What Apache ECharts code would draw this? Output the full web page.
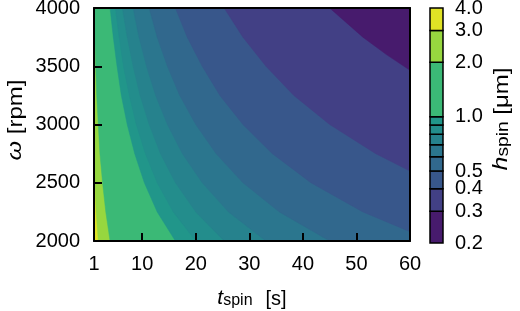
<!DOCTYPE html>
<html>
<head>
<meta charset="utf-8">
<script src="https://cdn.jsdelivr.net/npm/echarts@6/dist/echarts.min.js"></script>
<style>
  html, body { margin: 0; padding: 0; background: #fff; }
  #container { width: 520px; height: 311px; }
</style>
</head>
<body>
<div id="container"></div>
<script>
// contour levels of h_spin [um] and the fill colour of each band between them
var levels = [0.2, 0.3, 0.4, 0.5, 0.6, 0.7, 0.8, 0.9, 1.0, 2.0, 3.0, 4.0];
var bandColors = ['#471b6d', '#424085', '#38578b', '#31688d', '#2b768e', '#26828d',
                  '#238d8c', '#21968a', '#3bb976', '#97d73f', '#e0e325'];
var xTicks = [1, 10, 20, 30, 40, 50, 60];
var cbarTicks = [0.2, 0.3, 0.4, 0.5, 1.0, 2.0, 3.0, 4.0];

// contour lines, points are [t_spin (s), omega (rpm)]
var contour30 = [[1, 2680], [1.15, 2500], [1.4, 2250], [1.8, 2000]];
var contour20 = [[1.0, 4000], [1.15, 3750], [1.3, 3500], [1.5, 3250], [1.8, 3000], [2.1, 2750], [2.6, 2500], [3.2, 2250], [4.0, 2000]];
var contour10 = [[4.0, 4000], [4.6, 3750], [5.3, 3500], [6.1, 3250], [7.2, 3000], [8.6, 2750], [10.4, 2500], [12.8, 2250], [16.2, 2000]];
var contour09 = [[5.0, 4000], [5.7, 3750], [6.5, 3500], [7.6, 3250], [8.9, 3000], [10.6, 2750], [12.8, 2500], [15.8, 2250], [20.0, 2000]];
var contour08 = [[6.3, 4000], [7.2, 3750], [8.3, 3500], [9.6, 3250], [11.3, 3000], [13.4, 2750], [16.2, 2500], [20.0, 2250], [25.3, 2000]];
var contour07 = [[8.3, 4000], [9.4, 3750], [10.8, 3500], [12.5, 3250], [14.7, 3000], [17.5, 2750], [21.2, 2500], [26.1, 2250], [33.1, 2000]];
var contour06 = [[11.3, 4000], [12.8, 3750], [14.7, 3500], [17.0, 3250], [20.0, 3000], [23.8, 2750], [28.8, 2500], [35.6, 2250], [45.0, 2000]];
var contour05 = [[16.2, 4000], [18.4, 3750], [21.2, 3500], [24.5, 3250], [28.8, 3000], [34.3, 2750], [41.5, 2500], [51.2, 2250], [60, 2080]];
var contour04 = [[25.3, 4000], [28.8, 3750], [33.1, 3500], [38.3, 3250], [45.0, 3000], [53.6, 2750], [60, 2600]];
var contour03 = [[45.0, 4000], [51.2, 3750], [55.6, 3600], [60, 3465]];

var contourLevels = [4.0, 3.0, 2.0, 1.0, 0.9, 0.8, 0.7, 0.6, 0.5, 0.4, 0.3];
var contourLines = [null, contour30, contour20, contour10, contour09, contour08,
                    contour07, contour06, contour05, contour04, contour03];

var xMin = 1, xMax = 60, yMin = 2000, yMax = 4000;
var font = '"Liberation Sans", Arial, sans-serif';

var dom = document.getElementById('container');
var myChart = echarts.init(dom, null, { renderer: 'canvas' });

// region where h < level, i.e. right of / above the contour line
function regionItem(params, api) {
  var i = params.dataIndex;
  var line = contourLines[i];
  var pts = [];
  if (!line) {
    pts = [[xMin, yMax], [xMin, yMin], [xMax, yMin], [xMax, yMax]];
  } else {
    pts = line.slice();
    if (line[0][0] === xMin) pts.unshift([xMin, yMax]);
    pts.push([xMax, line[line.length - 1][1]]);
    pts.push([xMax, yMax]);
  }
  var band = levels.indexOf(contourLevels[i]) - 1;
  return {
    type: 'polygon',
    shape: { points: pts.map(function (p) { return api.coord(p); }) },
    style: { fill: bandColors[band], stroke: bandColors[band], lineWidth: 0.5 }
  };
}

function cbarItem(params, api) {
  var i = params.dataIndex;
  var p0 = api.coord([0, Math.log10(levels[i])]);
  var p1 = api.coord([1, Math.log10(levels[i + 1])]);
  return {
    type: 'rect',
    shape: { x: p0[0], y: p1[1], width: p1[0] - p0[0], height: p0[1] - p1[1] },
    style: { fill: bandColors[i], stroke: '#000', lineWidth: 1.5 }
  };
}

var frameLine = { show: true, onZero: false, lineStyle: { color: '#000', width: 2 } };
var titleRich = {
  i: { fontFamily: font, fontSize: 21, fontStyle: 'italic', fill: '#000', lineHeight: 24, verticalAlign: 'bottom' },
  s: { fontFamily: font, fontSize: 16, fill: '#000', lineHeight: 17, verticalAlign: 'bottom' },
  n: { fontFamily: font, fontSize: 20, fill: '#000', lineHeight: 24, verticalAlign: 'bottom' },
  w: { fontFamily: font, fontSize: 20, fill: '#000', lineHeight: 24, verticalAlign: 'bottom', padding: [0, 0, 0, 13] }
};

var option = {
  animation: false,
  textStyle: { fontFamily: font },
  grid: [
    { left: 94, right: 110, top: 8, bottom: 70, outerBoundsMode: 'none' },
    { left: 430, width: 13, top: 8, bottom: 68, outerBoundsMode: 'none' }
  ],
  xAxis: [
    {
      type: 'value', gridIndex: 0, min: xMin, max: xMax, z: 10,
      axisLine: frameLine,
      axisTick: { inside: true, length: 8, customValues: xTicks, lineStyle: { color: '#000', width: 2 } },
      axisLabel: { customValues: xTicks, margin: 13, color: '#000', fontSize: 20, fontFamily: font },
      splitLine: { show: false }
    },
    {
      type: 'value', gridIndex: 0, position: 'top', min: xMin, max: xMax, z: 10,
      axisLine: frameLine, axisTick: { show: false }, axisLabel: { show: false }, splitLine: { show: false }
    },
    {
      type: 'value', gridIndex: 1, min: 0, max: 1, show: false
    }
  ],
  yAxis: [
    {
      type: 'value', gridIndex: 0, min: yMin, max: yMax, interval: 500, z: 10,
      axisLine: frameLine,
      axisTick: { inside: true, length: 8, lineStyle: { color: '#000', width: 2 } },
      axisLabel: {
        margin: 14, color: '#000', fontSize: 20, fontFamily: font,
        formatter: function (v) { return String(v); }
      },
      splitLine: { show: false }
    },
    {
      type: 'value', gridIndex: 0, position: 'right', min: yMin, max: yMax, z: 10,
      axisLine: frameLine, axisTick: { show: false }, axisLabel: { show: false }, splitLine: { show: false }
    },
    {
      type: 'value', gridIndex: 1, position: 'right',
      min: Math.log10(levels[0]), max: Math.log10(levels[levels.length - 1]),
      axisLine: { show: false }, axisTick: { show: false }, splitLine: { show: false },
      axisLabel: {
        customValues: cbarTicks.map(function (v) { return Math.log10(v); }),
        formatter: function (v) { return Math.pow(10, v).toFixed(1); },
        margin: 12, color: '#000', fontSize: 20, fontFamily: font
      }
    }
  ],
  graphic: [
    {
      type: 'text', x: 252, y: 297,
      style: { text: '{i|t}{s|spin}{w|[s]}', align: 'center', verticalAlign: 'middle', rich: titleRich }
    },
    {
      type: 'text', x: 14, y: 120, rotation: Math.PI / 2, scaleX: 1.2,
      style: { text: '{i|ω}{n| [rpm]}', align: 'center', verticalAlign: 'middle', rich: titleRich }
    },
    {
      type: 'text', x: 500, y: 119, rotation: Math.PI / 2, scaleX: 1.2,
      style: { text: '{i|h}{s|spin}{n| [μm]}', align: 'center', verticalAlign: 'middle', rich: titleRich }
    }
  ],
  series: [
    {
      type: 'custom',
      xAxisIndex: 0,
      yAxisIndex: 0,
      clip: true,
      renderItem: regionItem,
      data: contourLevels.map(function (v, i) { return [i, v]; })
    },
    {
      type: 'custom',
      xAxisIndex: 2,
      yAxisIndex: 2,
      renderItem: cbarItem,
      data: bandColors.map(function (c, i) { return [0, i]; })
    }
  ]
};

myChart.setOption(option);
window.addEventListener('resize', myChart.resize);
</script>
</body>
</html>
